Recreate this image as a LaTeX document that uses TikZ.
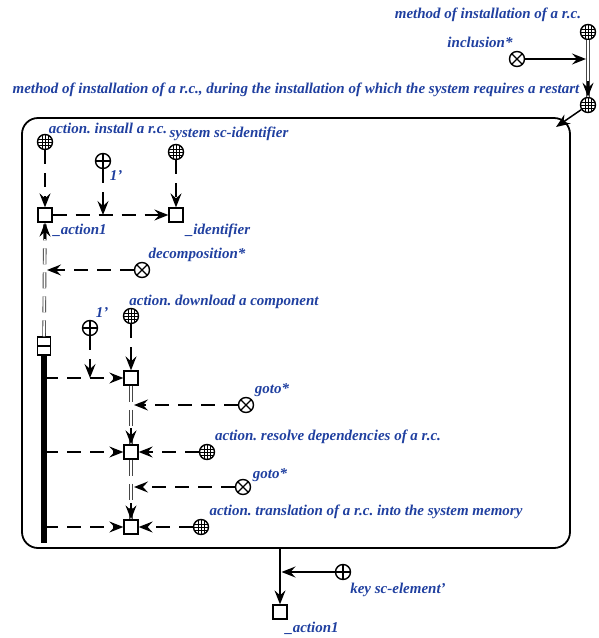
\documentclass[tikz,border=0pt]{standalone}
\usepackage{fontspec}
\setmainfont{Liberation Serif}
\usetikzlibrary{arrows.meta,calc}
\definecolor{lblue}{RGB}{32,64,160}
\definecolor{dgray}{RGB}{70,70,70}
\tikzset{
 lbl/.style={text=lblue, font=\frenchspacing\bfseries\itshape\fontsize{15}{17}\selectfont, inner sep=0pt},
 cls/.style={circle, draw, line width=1.4pt, minimum size=15pt, inner sep=0pt, fill=white, path picture={
   \draw[line width=0.6pt, shift={(path picture bounding box.center)}] (-2.8,-8)--(-2.8,8) (2.8,-8)--(2.8,8) (-8,-2.8)--(8,-2.8) (-8,2.8)--(8,2.8) (0,-8)--(0,8) (-8,0)--(8,0);}},
 pln/.style={circle, draw, line width=1.4pt, minimum size=15pt, inner sep=0pt, fill=white, path picture={
   \draw[line width=1.2pt, shift={(path picture bounding box.center)}] (0,-8)--(0,8) (-8,0)--(8,0);}},
 rel/.style={circle, draw, line width=1.4pt, minimum size=15pt, inner sep=0pt, fill=white, path picture={
   \draw[line width=1.2pt, shift={(path picture bounding box.center)}] (-8,-8)--(8,8) (-8,8)--(8,-8);}},
 var/.style={rectangle, draw, line width=1.3pt, minimum size=14pt, inner sep=0pt, fill=white},
 tup/.style={rectangle, draw, line width=1.3pt, minimum width=13pt, minimum height=18pt, inner sep=0pt, fill=white, path picture={
   \draw[line width=1.3pt] (path picture bounding box.west)--(path picture bounding box.east);}},
 tip/.style={-{Stealth[length=14pt,width=11pt,inset=5pt]}},
 arc/.style={tip, line width=1.5pt},
 varc/.style={arc, dash pattern=on 14pt off 9pt},
 common/.style={draw=dgray, double=white, double distance=1.8pt, line width=0.9pt},
 vcommon/.style={common, dash pattern=on 16pt off 8pt},
 contour/.style={draw, line width=1.8pt, rounded corners=16pt},
}
\begin{document}
\begin{tikzpicture}[x=1pt,y=-1pt]
\useasboundingbox (0,0) rectangle (598,638);
\draw[contour] (22,118) rectangle (570,548);

% top right
\node[cls] (n1) at (588,32) {};
\node[rel] (incl) at (517,59) {};
\node[cls] (n2) at (588,105) {};
\coordinate (p1) at (588,59);
\draw[common] (n1) -- (n2);
\draw[arc] ($(n2.north)+(0,-16)$) -- (n2.north);
\draw[arc, shorten >=2pt] (incl) -- (p1);
\coordinate (cc) at (556,127);
\draw[arc] (n2) -- (cc);
\node[lbl] (t1) at (488,15) {method of installation of a r.c.};
\node[lbl] (t2) at (480,42) {inclusion*};
\node[lbl] (t3) at (296,90) {method of installation of a r.c., during the installation of which the system requires a restart};

% first block
\node[cls] (ins) at (45,142) {};
\node[pln] (one1) at (103,161) {};
\node[cls] (sid) at (176,152) {};
\node[var] (a1) at (45,215) {};
\node[var] (idf) at (176,215) {};
\coordinate (m1) at (103,215);
\draw[varc] (ins) -- (a1);
\draw[varc] (sid) -- (idf);
\draw[varc] (a1) -- (idf);
\draw[varc] (one1) -- (m1);
\node[lbl] (t4) at (108,128) {action. install a r.c.};
\node[lbl] (t5) at (116,176) {1'};
\node[lbl] (t6) at (229,134) {system sc-identifier};
\node[lbl] (t7) at (80,230) {\_action1};
\node[lbl] (t8) at (218,231) {\_identifier};

% tuple and bus
\node[tup] (tp) at (44,346) {};
\coordinate (busend) at (44,543);
\draw[line width=5.5pt] (tp.south) -- (busend);
\draw[vcommon] (tp) -- (a1);
\draw[arc] ($(a1.south)+(0,16)$) -- (a1.south);
\coordinate (m2) at (44,270);
\node[rel] (dec) at (142,270) {};
\draw[varc, shorten >=3pt] (dec) -- (m2);
\node[lbl] (t9) at (197,255) {decomposition*};

% second block
\node[pln] (one2) at (90,328) {};
\node[cls] (dl) at (131,316) {};
\node[var] (A) at (131,378) {};
\coordinate (b1) at (44,378);
\coordinate (m3) at (90,378);
\draw[varc] (b1) -- (A);
\draw[varc] (one2) -- (m3);
\draw[varc] (dl) -- (A);
\node[lbl] (t10) at (224,302) {action. download a component};
\node[lbl] (t11) at (102,313) {1'};

\node[var] (B) at (131,452) {};
\node[rel] (g1) at (246,405) {};
\coordinate (m4) at (131,405);
\draw[vcommon] (A) -- (B);
\draw[arc] ($(B.north)+(0,-16)$) -- (B.north);
\draw[varc, shorten >=3pt] (g1) -- (m4);
\node[cls] (rd) at (207,452) {};
\draw[varc] (rd) -- (B);
\coordinate (b2) at (44,452);
\draw[varc] (b2) -- (B);
\node[lbl] (t12) at (272,390) {goto*};
\node[lbl] (t13) at (328,437) {action. resolve dependencies of a r.c.};

\node[var] (C) at (131,527) {};
\node[rel] (g2) at (243,487) {};
\coordinate (m5) at (131,487);
\draw[vcommon] (B) -- (C);
\draw[arc] ($(C.north)+(0,-16)$) -- (C.north);
\draw[varc, shorten >=3pt] (g2) -- (m5);
\node[cls] (tr) at (201,527) {};
\draw[varc] (tr) -- (C);
\coordinate (b3) at (44,527);
\draw[varc] (b3) -- (C);
\node[lbl] (t14) at (270,475) {goto*};
\node[lbl] (t15) at (366,512) {action. translation of a r.c. into the system memory};

% bottom
\coordinate (cb) at (280,548);
\node[var] (a2) at (280,612) {};
\draw[arc] (cb) -- (a2);
\node[pln] (key) at (343,572) {};
\coordinate (m6) at (280,572);
\draw[arc, shorten >=1.5pt] (key) -- (m6);
\node[lbl] (t16) at (398,590) {key sc-element'};
\node[lbl] (t17) at (312,628) {\_action1};
\end{tikzpicture}
\end{document}
